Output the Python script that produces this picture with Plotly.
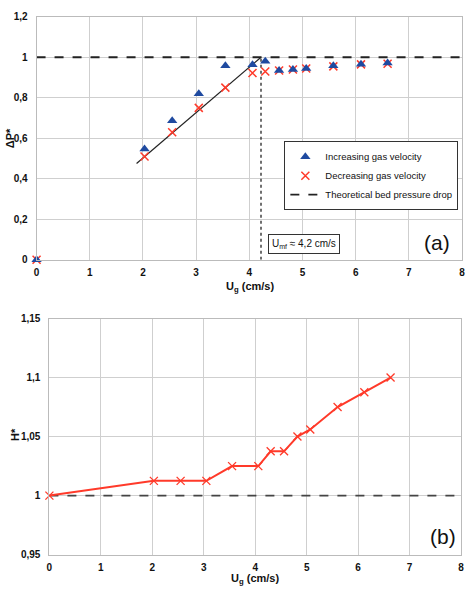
import plotly.graph_objects as go

# ---- data (a) ----
ug_inc = [0, 2.03, 2.55, 3.05, 3.55, 4.06, 4.3, 4.56, 4.82, 5.07, 5.58, 6.1, 6.6]
dp_inc = [0, 0.547, 0.687, 0.82, 0.958, 0.963, 0.98, 0.935, 0.94, 0.945, 0.958, 0.965, 0.972]
ug_dec = [0, 2.03, 2.55, 3.05, 3.55, 4.06, 4.3, 4.56, 4.82, 5.07, 5.58, 6.1, 6.6]
dp_dec = [0, 0.51, 0.63, 0.75, 0.85, 0.922, 0.93, 0.935, 0.94, 0.945, 0.955, 0.965, 0.968]
fit_x = [1.88, 4.22]
fit_y = [0.475, 1.0]
theo_x = [0, 8]
theo_y = [1, 1]
umf_x = [4.22, 4.22]
umf_y = [0, 1.0]

# ---- data (b) ----
ug_h = [0, 2.03, 2.55, 3.05, 3.55, 4.06, 4.3, 4.56, 4.82, 5.07, 5.6, 6.12, 6.63]
h_star = [1.0, 1.0125, 1.0125, 1.0125, 1.025, 1.025, 1.0375, 1.0375, 1.05, 1.056, 1.075, 1.0875, 1.1]
ref_x = [0, 8]
ref_y = [1, 1]

xticks = [0, 1, 2, 3, 4, 5, 6, 7, 8]
yticks_a = [0, 0.2, 0.4, 0.6, 0.8, 1.0, 1.2]
yticklabels_a = ["0", "0,2", "0,4", "0,6", "0,8", "1", "1,2"]
yticks_b = [0.95, 1.0, 1.05, 1.1, 1.15]
yticklabels_b = ["0,95", "1", "1,05", "1,1", "1,15"]

FONT = "Liberation Sans"
blue = "#1f4aa0"
red = "#ff3a2a"
grid = "#cfcfcf"

fig = go.Figure()

fig.add_trace(go.Scatter(x=fit_x, y=fit_y, mode="lines", line=dict(color="#222", width=1.2),
                         showlegend=False, xaxis="x", yaxis="y"))
fig.add_trace(go.Scatter(x=umf_x, y=umf_y, mode="lines", line=dict(color="#222", width=1.3, dash="dot"),
                         showlegend=False, xaxis="x", yaxis="y"))
fig.add_trace(go.Scatter(x=theo_x, y=theo_y, mode="lines", name="Theoretical bed pressure drop",
                         line=dict(color="#222", width=1.8, dash="dash"),
                         xaxis="x", yaxis="y", legendrank=3))
fig.add_trace(go.Scatter(x=ug_dec, y=dp_dec, mode="markers", name="Decreasing gas velocity",
                         marker=dict(symbol="x-thin-open", size=8, line=dict(color=red, width=1.5), color=red),
                         cliponaxis=False, xaxis="x", yaxis="y", legendrank=2))
fig.add_trace(go.Scatter(x=ug_inc, y=dp_inc, mode="markers", name="Increasing gas velocity",
                         marker=dict(symbol="triangle-up", size=9, color=blue),
                         cliponaxis=False, xaxis="x", yaxis="y", legendrank=1))

fig.add_trace(go.Scatter(x=ref_x, y=ref_y, mode="lines", line=dict(color="#444", width=1.8, dash="dash"),
                         showlegend=False, xaxis="x2", yaxis="y2"))
fig.add_trace(go.Scatter(x=ug_h, y=h_star, mode="lines+markers", showlegend=False,
                         line=dict(color=red, width=2),
                         marker=dict(symbol="x-thin-open", size=8, line=dict(color=red, width=1.3)),
                         cliponaxis=False, xaxis="x2", yaxis="y2"))

W, H = 469, 591
def px(v): return v / W
def py(v): return 1 - v / H

axis_common = dict(showgrid=True, gridcolor=grid, gridwidth=1, zeroline=False,
                   showline=True, linecolor="#bbbbbb", linewidth=1, ticks="",
                   tickfont=dict(family=FONT, size=10, color="#111", weight="bold"))

fig.update_layout(
    width=W, height=H, margin=dict(l=0, r=0, t=0, b=0),
    paper_bgcolor="white", plot_bgcolor="white",
    font=dict(family=FONT, color="#111"),
    xaxis=dict(domain=[px(34), px(465)], range=[0, 8], tickvals=xticks, anchor="y",
               mirror=True, ticklabelstandoff=3, **axis_common),
    yaxis=dict(domain=[py(259), py(11)], range=[0, 1.2], tickvals=yticks_a, ticktext=yticklabels_a,
               anchor="x", mirror=True, ticklabelstandoff=6, **axis_common),
    xaxis2=dict(domain=[px(47), px(464)], range=[0, 8], tickvals=xticks, anchor="y2",
                mirror=True, ticklabelstandoff=3, **axis_common),
    yaxis2=dict(domain=[py(560), py(319)], range=[0.95, 1.15], tickvals=yticks_b, ticktext=yticklabels_b,
                anchor="x2", mirror=True, ticklabelstandoff=6, **axis_common),
    legend=dict(x=px(285), y=py(138), xanchor="left", yanchor="top",
                bgcolor="white", bordercolor="#333", borderwidth=1,
                font=dict(family=FONT, size=9.5, color="#111"),
                tracegroupgap=0, itemwidth=30, traceorder="normal"),
)

anns = [
    dict(x=px(250), y=py(287), text="<b>U<sub>g</sub> (cm/s)</b>", font=dict(size=11)),
    dict(x=px(7), y=py(135), text="<b>ΔP*</b>", textangle=-90, font=dict(size=11)),
    dict(x=px(305), y=py(243), text="U<sub>mf</sub> ≈ 4,2 cm/s", font=dict(size=10),
         bordercolor="#333", borderwidth=1, borderpad=3, bgcolor="white"),
    dict(x=px(440), y=py(241), text="(a)", font=dict(size=21)),
    dict(x=px(255), y=py(585), text="<b>U<sub>g</sub> (cm/s)</b>", font=dict(size=11)),
    dict(x=px(12), y=py(437), text="<b>H*</b>", textangle=-90, font=dict(size=11)),
    dict(x=px(446), y=py(541), text="(b)", font=dict(size=21)),
]
for a in anns:
    a.update(xref="paper", yref="paper", showarrow=False, xanchor="center", yanchor="middle")
    a["font"] = dict(family=FONT, color="#111", **a["font"])
    fig.add_annotation(**a)

fig.write_html("out.html")
